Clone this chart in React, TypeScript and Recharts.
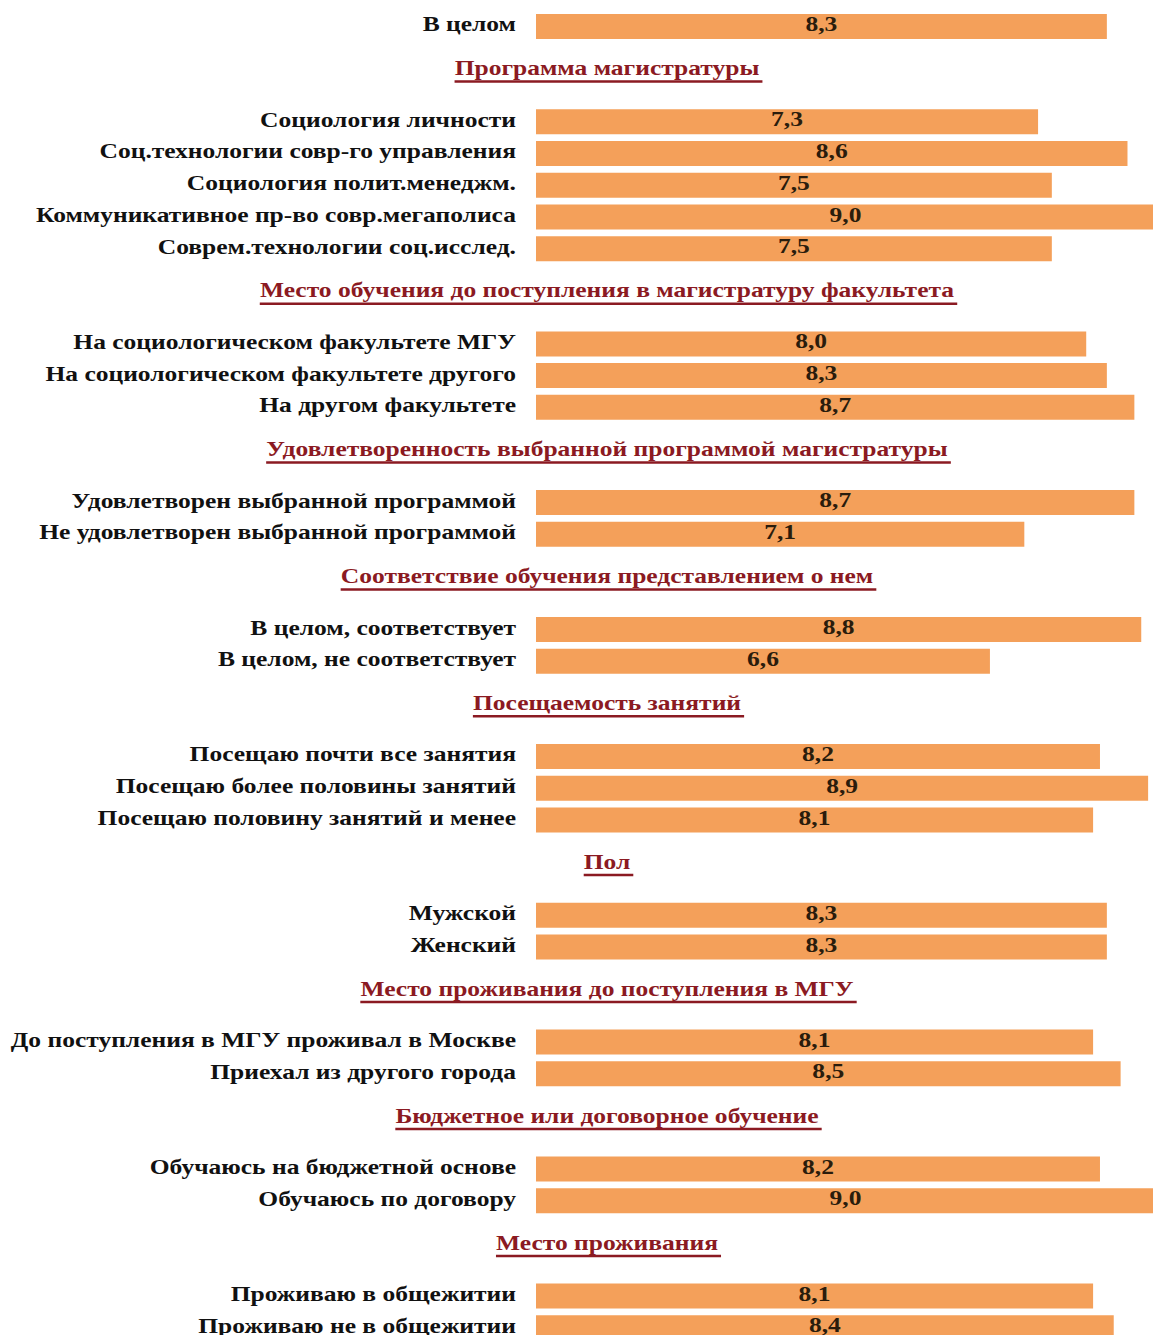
import { BarChart, Bar, XAxis, YAxis, LabelList } from "recharts";

const overallLabel = "В целом";
const overallValue = 8.3;

const sectionTitles = [
  "Программа магистратуры",
  "Место обучения до поступления в магистратуру факультета",
  "Удовлетворенность выбранной программой магистратуры",
  "Соответствие обучения представлением о нем",
  "Посещаемость занятий",
  "Пол",
  "Место проживания до поступления в МГУ",
  "Бюджетное или договорное обучение",
  "Место проживания",
];

const sectionLabels = [
  [
    "Социология личности",
    "Соц.технологии совр-го управления",
    "Социология полит.менеджм.",
    "Коммуникативное пр-во совр.мегаполиса",
    "Соврем.технологии соц.исслед.",
  ],
  ["На социологическом факультете МГУ", "На социологическом факультете другого", "На другом факультете"],
  ["Удовлетворен выбранной программой", "Не удовлетворен выбранной программой"],
  ["В целом, соответствует", "В целом, не соответствует"],
  ["Посещаю почти все занятия", "Посещаю более половины занятий", "Посещаю половину занятий и менее"],
  ["Мужской", "Женский"],
  ["До поступления в МГУ проживал в Москве", "Приехал из другого города"],
  ["Обучаюсь на бюджетной основе", "Обучаюсь по договору"],
  ["Проживаю в общежитии", "Проживаю не в общежитии"],
];

const sectionValues = [
  [7.3, 8.6, 7.5, 9.0, 7.5],
  [8.0, 8.3, 8.7],
  [8.7, 7.1],
  [8.8, 6.6],
  [8.2, 8.9, 8.1],
  [8.3, 8.3],
  [8.1, 8.5],
  [8.2, 9.0],
  [8.1, 8.4],
];

type Row = { id: string; label: string; value: number | null; heading: boolean };

const rows: Row[] = [{ id: "r0", label: overallLabel, value: overallValue, heading: false }];
sectionTitles.forEach((title, s) => {
  rows.push({ id: `h${s}`, label: title, value: null, heading: true });
  rows.push({ id: `b${s}`, label: "", value: null, heading: false });
  sectionLabels[s].forEach((label, i) => {
    rows.push({ id: `s${s}-${i}`, label, value: sectionValues[s][i], heading: false });
  });
});

const FONT = "'Liberation Serif', 'Times New Roman', serif";
const FONT_SIZE = 22;
const STRETCH = 1.16;
const BAR_COLOR = "#F4A05A";
const HEAD_COLOR = "#8B1A22";

const measure = (text: string) => {
  const ctx = document.createElement("canvas").getContext("2d");
  if (!ctx) return text.length * 11;
  ctx.font = `bold ${FONT_SIZE}px ${FONT}`;
  return ctx.measureText(text).width * STRETCH;
};

const HEAD_X = 607;

const Stretched = ({ x, y, anchor, fill, children }: any) => (
  <text
    transform={`translate(${x},${y}) scale(${STRETCH},1)`}
    x={0}
    y={0}
    dy="0.3em"
    textAnchor={anchor}
    fill={fill}
    fontFamily={FONT}
    fontWeight="bold"
    fontSize={FONT_SIZE}
  >
    {children}
  </text>
);

const RowTick = (props: any) => {
  const { x, y, payload } = props;
  const row = rows[payload.index];
  if (!row || !row.label) return null;
  if (row.heading) {
    const w = measure(row.label);
    const ty = y + 10;
    return (
      <g>
        <Stretched x={HEAD_X} y={ty} anchor="middle" fill={HEAD_COLOR}>
          {row.label}
        </Stretched>
        <line
          x1={HEAD_X - w / 2}
          x2={HEAD_X + w / 2 + 3}
          y1={ty + 13}
          y2={ty + 13}
          stroke={HEAD_COLOR}
          strokeWidth={2.5}
        />
      </g>
    );
  }
  return (
    <Stretched x={x} y={y - 2} anchor="end" fill="#111">
      {row.label}
    </Stretched>
  );
};

const fmt = (v: any) => (v == null ? "" : Number(v).toFixed(1).replace(".", ","));

const ValueLabel = (props: any) => {
  const { x, y, width, height, value } = props;
  if (value == null) return null;
  return (
    <Stretched x={Number(x) + Number(width) / 2} y={Number(y) + Number(height) / 2 - 2} anchor="middle" fill="#2A1C0C">
      {fmt(value)}
    </Stretched>
  );
};

export default function App() {
  return (
    <div
      style={{
        position: "fixed",
        left: 0,
        top: 0,
        width: 1153,
        height: 1335,
        overflow: "hidden",
        background: "#fff",
      }}
    >
      <BarChart
        width={1155}
        height={1344}
        data={rows}
        layout="vertical"
        margin={{ top: 11, right: 0, bottom: 0, left: 0 }}
        barSize={25}
      >
        <XAxis type="number" domain={[0, 9]} hide />
        <YAxis
          type="category"
          dataKey="id"
          width={536}
          interval={0}
          tickLine={false}
          axisLine={false}
          tickSize={0}
          tickMargin={20}
          tick={<RowTick />}
        />
        <Bar dataKey="value" fill={BAR_COLOR} isAnimationActive={false}>
          <LabelList dataKey="value" content={<ValueLabel />} />
        </Bar>
      </BarChart>
    </div>
  );
}
